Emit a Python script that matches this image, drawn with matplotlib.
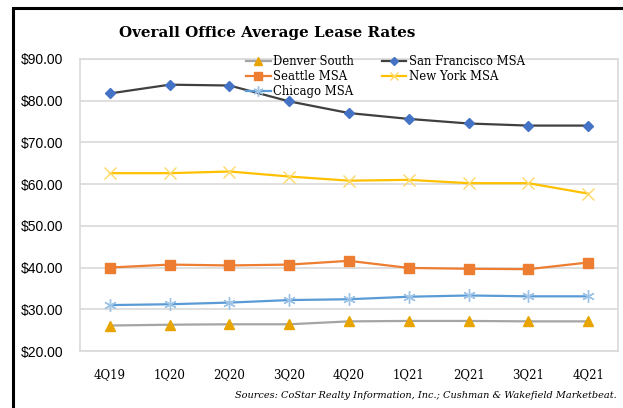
import matplotlib.pyplot as plt
from matplotlib.patches import Rectangle

quarters = ['4Q19', '1Q20', '2Q20', '3Q20', '4Q20', '1Q21', '2Q21', '3Q21', '4Q21']

denver = [26.1, 26.3, 26.4, 26.4, 27.1, 27.2, 27.2, 27.1, 27.1]
san_francisco = [81.7, 83.8, 83.6, 79.8, 77.0, 75.6, 74.5, 74.0, 74.0]
seattle = [40.0, 40.7, 40.5, 40.7, 41.6, 39.9, 39.7, 39.6, 41.2]
new_york = [62.6, 62.6, 63.0, 61.8, 60.8, 61.0, 60.2, 60.2, 57.7]
chicago = [31.0, 31.2, 31.6, 32.2, 32.4, 33.0, 33.3, 33.1, 33.1]

y_ticks = [20, 30, 40, 50, 60, 70, 80, 90]

fig = plt.figure(figsize=(6.23, 4.08), dpi=100)
ax = fig.add_axes([0.1284, 0.1397, 0.8636, 0.7162])

x = list(range(len(quarters)))

l_den, = ax.plot(x, denver, color='#A5A5A5', lw=1.6, marker='^', ms=7,
                 mfc='#E8A400', mec='#E8A400', label='Denver South', zorder=3)
l_sea, = ax.plot(x, seattle, color='#ED7D31', lw=1.6, marker='s', ms=7,
                 mfc='#ED7D31', mec='#ED7D31', label='Seattle MSA', zorder=3)
l_chi, = ax.plot(x, chicago, color='#5B9BD5', lw=1.6, marker=(6, 2, 0), ms=9,
                 mfc='#9DC3E6', mec='#9DC3E6', mew=1, label='Chicago MSA', zorder=3)
l_sf, = ax.plot(x, san_francisco, color='#404040', lw=1.6, marker='D', ms=5,
                mfc='#4472C4', mec='#4472C4', label='San Francisco MSA', zorder=3)
l_ny, = ax.plot(x, new_york, color='#FFC000', lw=1.6, marker='x', ms=8,
                mfc='#FFD966', mec='#FFD966', mew=1, label='New York MSA', zorder=3)

ax.set_xlim(-0.5, len(quarters) - 0.5)
ax.set_ylim(20, 90)
ax.set_yticks(y_ticks)
ax.set_yticklabels(['${:.2f}'.format(v) for v in y_ticks],
                   fontfamily='Liberation Sans', fontsize=10)
ax.set_xticks(x)
ax.set_xticklabels(quarters, fontfamily='DejaVu Serif', fontsize=8.5)
ax.tick_params(length=0, axis='both')
ax.tick_params(axis='y', pad=12)
ax.tick_params(axis='x', pad=12)
ax.grid(axis='y', color='#D9D9D9', lw=1.2)
ax.set_axisbelow(True)
for s in ax.spines.values():
    s.set_color('#D9D9D9')
    s.set_linewidth(1.2)

leg = ax.legend(handles=[l_den, l_sea, l_chi, l_sf, l_ny], ncol=2,
                loc='upper left', bbox_to_anchor=(0.30, 1.03), frameon=False,
                prop={'family': 'DejaVu Serif', 'size': 8.4},
                handlelength=2.1, handletextpad=0.2, columnspacing=2.4,
                labelspacing=0.2, borderaxespad=0, markerscale=0.8)

fig.text(267 / 623, 0.918, 'Overall Office Average Lease Rates', ha='center', va='center',
         fontfamily='DejaVu Serif', fontweight='bold', fontsize=10.9)
fig.text(0.99, 0.03, 'Sources: CoStar Realty Information, Inc.; Cushman & Wakefield Marketbeat.',
         ha='right', va='center', fontfamily='DejaVu Serif', style='italic', fontsize=7)

fig.patches.append(Rectangle((12.5 / 623, -0.1), 1.2, 1.08 - 8 / 408 + 0.02,
                             transform=fig.transFigure, fill=False,
                             edgecolor='black', lw=2.2))

fig.savefig('out.png', dpi=100)
